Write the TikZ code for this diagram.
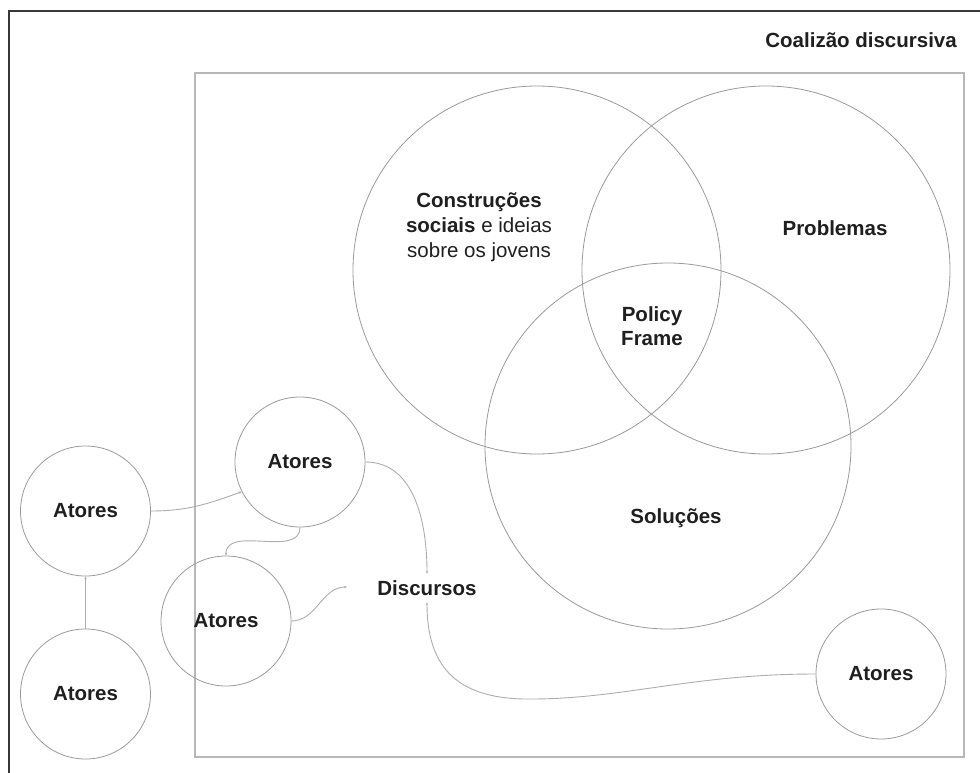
\documentclass[tikz,border=0pt]{standalone}
\usepackage{fontspec}
\setmainfont{Liberation Sans}
\usetikzlibrary{arrows.meta}
\begin{document}
\begin{tikzpicture}[x=1pt,y=1pt,
  lbl/.style={text=black!88, font=\fontsize{20.5}{25}\selectfont\bfseries, inner sep=0pt},
  actor/.style={circle, draw=black!40, line width=0.8pt, minimum size=130pt, inner sep=0pt, lbl},
  venn/.style={circle, draw=black!40, line width=0.8pt, inner sep=0pt},
  link/.style={draw=black!32, line width=0.9pt, -{Stealth[length=3pt,width=2.5pt]}},
]
\useasboundingbox (0,0) rectangle (980,-773);
\begin{scope}
  \clip (0,0) rectangle (980,-773);
  \draw[line width=1.3pt, black!78] (9,-11) rectangle (1000,-800);
\end{scope}
% inner frame
\draw[draw=black!28, line width=1.4pt] (195,-73) rectangle (964,-757);
\node[lbl, anchor=east] (title) at (957,-40) {Coalizão discursiva};

% Venn circles
\node[venn, minimum size=368pt] (cons) at (537,-270) {};
\node[venn, minimum size=368pt] (prob) at (766,-270) {};
\node[venn, minimum size=366pt] (sol) at (668,-446) {};
\node[lbl, font=\fontsize{20.5}{25}\selectfont, align=center] (constxt) at (479,-227)
  {\textbf{Construções}\\\textbf{sociais} e ideias\\sobre os jovens};
\node[lbl] (probtxt) at (835,-228) {Problemas};
\node[lbl, align=center, font=\fontsize{20.5}{23.5}\selectfont\bfseries] (pf) at (652,-326) {Policy\\Frame};
\node[lbl] (soltxt) at (676,-518) {Soluções};

% actors
\node[actor] (a1) at (85.5,-511) {Atores};
\node[actor] (a2) at (85.5,-694) {Atores};
\node[actor] (a3) at (300,-462) {Atores};
\node[actor] (a4) at (226,-621) {Atores};
\node[actor] (a5) at (881,-674) {Atores};

\node[lbl, inner xsep=0pt, inner ysep=6.5pt] (disc) at (427,-588) {Discursos};
\coordinate (dl) at (347,-587);

% connectors
\draw[link] (a2.north) -- (a1.south);
\draw[link] (a1.east) to[out=0,in=200] (a3.207);
\draw[link] (a3.south) to[out=-90,in=90] (a4.north);
\draw[link] (a4.east) to[out=0,in=180] (dl);
\draw[link] (a3.east) to[out=0,in=90] (disc.north);
\draw[link] (a5.west) .. controls (690,-674) and (620,-700) .. (525,-699)
  .. controls (455,-698) and (427,-665) .. (disc.south);
\end{tikzpicture}
\end{document}
